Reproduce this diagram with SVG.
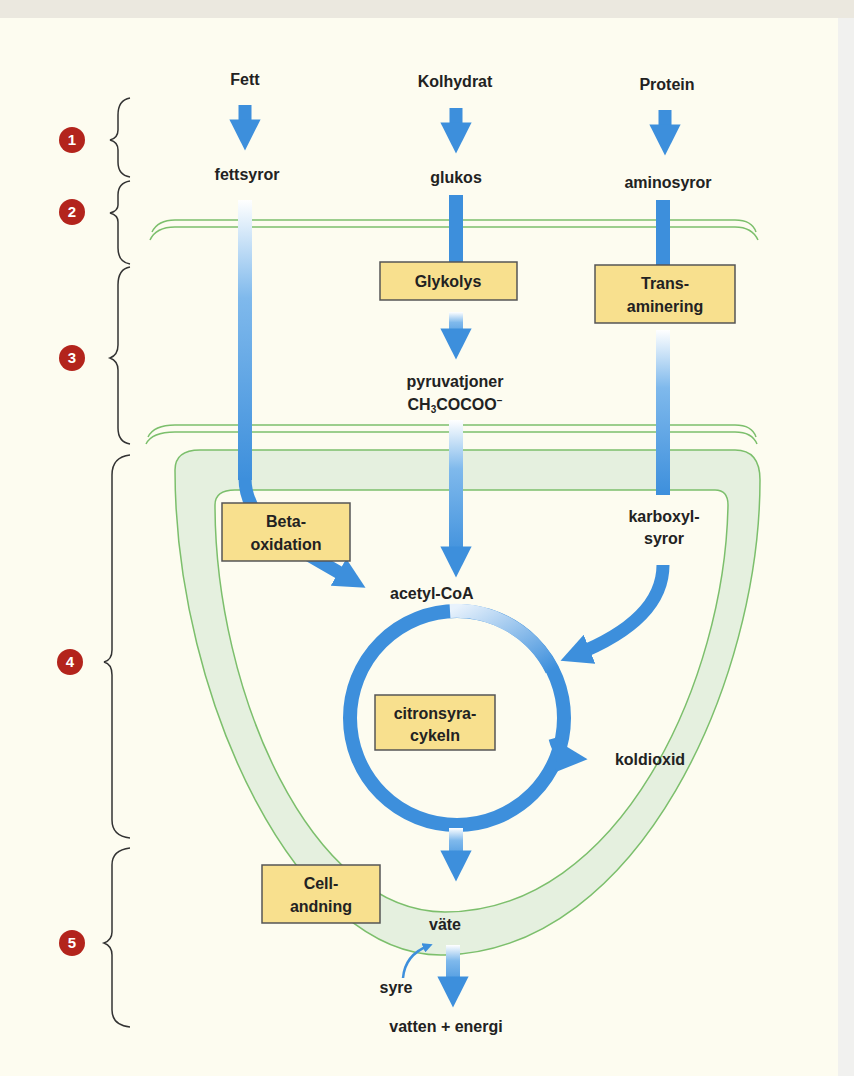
<svg xmlns="http://www.w3.org/2000/svg" width="854" height="1076" viewBox="0 0 854 1076">
<defs>
<linearGradient id="fadeV" x1="0" y1="0" x2="0" y2="1"><stop offset="0" stop-color="#ffffff"/><stop offset="0.35" stop-color="#7fb9ec"/><stop offset="1" stop-color="#3d8fdc"/></linearGradient>
<linearGradient id="fadeArc" x1="0" y1="0" x2="1" y2="1"><stop offset="0" stop-color="#e8f2fc"/><stop offset="1" stop-color="#3d8fdc"/></linearGradient>
<marker id="ah" viewBox="0 0 10 10" refX="5" refY="5" markerWidth="2.4" markerHeight="2.4" orient="auto"><path d="M0,0 L10,5 L0,10 Z" fill="#3d8fdc"/></marker>
<marker id="ahs" viewBox="0 0 10 10" refX="5" refY="5" markerWidth="4" markerHeight="4" orient="auto"><path d="M0,0 L10,5 L0,10 Z" fill="#3d8fdc"/></marker>
</defs>
<style>
text{font-family:"Liberation Sans",Arial,sans-serif;font-weight:bold;font-size:16px;fill:#222;text-anchor:middle}
.box{fill:#f8e08e;stroke:#555;stroke-width:1.5}
.f{fill:none;stroke:#3d8fdc;stroke-width:13}
.mem{fill:none;stroke:#7cbf6c;stroke-width:1.5}
.br{fill:none;stroke:#333;stroke-width:1.5}
.num{fill:#b3241c}
.nt{fill:#fff;font-size:15px}
</style>
<rect width="854" height="1076" fill="#fdfcf0"/>
<rect width="854" height="18" fill="#ebe8df"/>
<rect x="838" y="18" width="16" height="1058" fill="#f1f1ef"/>

<g id="membranes">
<path class="mem" d="M152,232 Q158,220 175,220 L735,220 Q752,220 756,232"/>
<path class="mem" d="M150,240 Q156,227 175,227 L735,227 Q752,227 758,240"/>
<path class="mem" d="M148,437 Q154,425 175,425 L735,425 Q752,425 756,437"/>
<path class="mem" d="M146,444 Q152,432 175,432 L735,432 Q752,432 757,444"/>
<path d="M175,470 Q175,450 200,450 L735,450 Q760,450 760,480 C760,680 640,950 445,955 C300,960 175,700 175,470 Z M215,505 Q215,490 235,490 L715,490 Q728,490 728,505 C725,680 620,912 445,912 C310,912 215,690 215,505 Z" fill="#e5f0df" fill-rule="evenodd" stroke="#7cbf6c" stroke-width="1.5"/>
</g>

<g id="connectors">
<path class="f" d="M245,105 V135" marker-end="url(#ah)"/>
<path class="f" d="M456,108 V138" marker-end="url(#ah)"/>
<path class="f" d="M665,110 V140" marker-end="url(#ah)"/>
<rect x="238" y="200" width="14" height="280" fill="url(#fadeV)"/>
<path class="f" d="M245,478 Q245,520 300,550 L352,580" marker-end="url(#ah)"/>
<rect x="449" y="195" width="14" height="68" fill="#3d8fdc"/>
<rect x="449" y="312" width="14" height="30" fill="url(#fadeV)"/>
<path class="f" d="M456,338 V344" marker-end="url(#ah)"/>
<rect x="449" y="420" width="14" height="140" fill="url(#fadeV)"/>
<path class="f" d="M456,555 V562" marker-end="url(#ah)"/>
<rect x="656" y="200" width="14" height="66" fill="#3d8fdc"/>
<rect x="656" y="330" width="14" height="165" fill="url(#fadeV)"/>
<path class="f" d="M663,565 Q663,620 575,655" marker-end="url(#ah)"/>
<circle cx="457" cy="718" r="107" fill="none" stroke="#3d8fdc" stroke-width="14"/>
<path d="M450,611 A107,107 0 0 1 552,670" fill="none" stroke="url(#fadeArc)" stroke-width="14"/>
<path class="f" d="M555,738 Q560,757 572,758" marker-end="url(#ah)"/>
<rect x="449" y="828" width="14" height="36" fill="url(#fadeV)"/>
<path class="f" d="M456,860 V866" marker-end="url(#ah)"/>
<rect x="446" y="945" width="14" height="45" fill="url(#fadeV)"/>
<path class="f" d="M453,985 V992" marker-end="url(#ah)"/>
<path d="M403,978 Q405,955 428,946" fill="none" stroke="#3d8fdc" stroke-width="2.5" marker-end="url(#ahs)"/>
</g>

<g id="labels">
<text x="245" y="85">Fett</text>
<text x="455" y="87">Kolhydrat</text>
<text x="667" y="90">Protein</text>
<text x="247" y="180">fettsyror</text>
<text x="456" y="183">glukos</text>
<text x="668" y="188">aminosyror</text>
<text x="455" y="387">pyruvatjoner</text>
<text x="455" y="410">CH<tspan font-size="10" dy="3">3</tspan><tspan dy="-3">COCOO</tspan><tspan font-size="10" dy="-6">−</tspan></text>
<text x="390" y="599" style="text-anchor:start">acetyl-CoA</text>
<text x="664" y="522">karboxyl-</text>
<text x="664" y="544">syror</text>
<text x="650" y="765">koldioxid</text>
<text x="445" y="930">väte</text>
<text x="396" y="993">syre</text>
<text x="446" y="1032">vatten + energi</text>
</g>

<g id="boxes">
<g id="glykolys"><rect class="box" x="380" y="262" width="137" height="38"/><text x="448" y="287">Glykolys</text></g>
<g id="transaminering"><rect class="box" x="595" y="265" width="140" height="58"/><text x="665" y="289">Trans-</text><text x="665" y="312">aminering</text></g>
<g id="betaoxidation"><rect class="box" x="222" y="503" width="128" height="58"/><text x="286" y="527">Beta-</text><text x="286" y="550">oxidation</text></g>
<g id="citronsyra"><rect class="box" x="375" y="695" width="120" height="55"/><text x="435" y="719">citronsyra-</text><text x="435" y="741">cykeln</text></g>
<g id="cellandning"><rect class="box" x="262" y="865" width="118" height="58"/><text x="321" y="889">Cell-</text><text x="321" y="912">andning</text></g>
</g>

<g id="braces">
<path class="br" d="M130,98 Q118,100 118,115 V130 Q118,138 110,140 Q118,142 118,150 V162 Q118,175 130,177"/>
<path class="br" d="M130,181 Q118,183 118,195 V205 Q118,211 110,213 Q118,215 118,222 V248 Q118,262 130,264"/>
<path class="br" d="M130,267 Q118,269 118,285 V345 Q118,355 110,358 Q118,361 118,370 V428 Q118,442 130,444"/>
<path class="br" d="M130,455 Q112,457 112,475 V650 Q112,660 104,662 Q112,664 112,675 V820 Q112,836 130,838"/>
<path class="br" d="M130,848 Q112,850 112,865 V932 Q112,940 104,943 Q112,946 112,955 V1010 Q112,1025 130,1027"/>
</g>

<g id="numbers">
<circle class="num" cx="72" cy="140" r="13"/><text class="nt" x="72" y="145">1</text>
<circle class="num" cx="72" cy="212" r="13"/><text class="nt" x="72" y="217">2</text>
<circle class="num" cx="72" cy="358" r="13"/><text class="nt" x="72" y="363">3</text>
<circle class="num" cx="70" cy="662" r="13"/><text class="nt" x="70" y="667">4</text>
<circle class="num" cx="72" cy="943" r="13"/><text class="nt" x="72" y="948">5</text>
</g>
</svg>
